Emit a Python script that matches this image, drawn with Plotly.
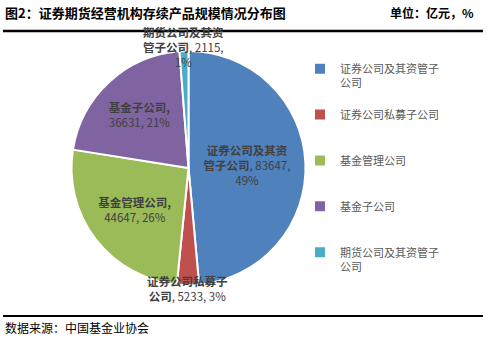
import math
import plotly.graph_objects as go

categories = ["证券公司及其资管子公司", "证券公司私募子公司", "基金管理公司", "基金子公司", "期货公司及其资管子公司"]
values = [83647, 5233, 44647, 36631, 2115]
colors = ["#4F81BD", "#C0504D", "#9BBB59", "#8064A2", "#4BACC6"]

# display helpers (line breaks in names)
legend_names = ["证券公司及其资管子<br>公司", "证券公司私募子公司", "基金管理公司", "基金子公司", "期货公司及其资管子<br>公司"]
label_names = ["证券公司及其资<br>管子公司", "证券公司私募子<br>公司", "基金管理公司,", "基金子公司,", "期货公司及其资<br>管子公司"]
sep1 = [", ", ", ", "<br>", "<br>", ", "]
sep2 = [",<br>", ", ", ", ", ", ", ",<br>"]
inside = [True, False, True, True, False]

W, H = 487, 338
CX, CY, R = 188.5, 170, 117  # pie centre (px from left / from bottom) and radius

total = sum(values)
pad = "<br>&nbsp;"
legend_labels = [n + pad * (3 - (n.count("<br>") + 1)) for n in legend_names]

text_font = dict(size=11.5, color="#404040", family="Noto Sans CJK SC")

fig = go.Figure()
fig.add_trace(go.Pie(
    labels=legend_labels,
    values=values,
    customdata=list(zip(label_names, sep1, sep2)),
    texttemplate="<b>%{customdata[0]}</b>%{customdata[1]}%{value:d}%{customdata[2]}%{percent:.0%}",
    textposition=["inside" if i else "none" for i in inside],
    insidetextorientation="horizontal",
    textfont=text_font,
    marker=dict(colors=colors, line=dict(color="white", width=2)),
    sort=False,
    direction="clockwise",
    rotation=0,
    domain=dict(x=[(CX - R) / W, (CX + R) / W], y=[(CY - R) / H, (CY + R) / H]),
    hoverinfo="skip",
))

# outside labels for the two thin slices, placed at the slice's mid-angle on the rim
annotations = []
cum = 0
for i, v in enumerate(values):
    mid = (cum + v / 2) / total
    cum += v
    if inside[i]:
        continue
    ang = 2 * math.pi * mid
    rr = R + 4
    px = CX + rr * math.sin(ang)
    py = CY + rr * math.cos(ang)
    txt = "<b>%s</b>%s%d%s%d%%" % (label_names[i], sep1[i], values[i], sep2[i], round(100 * v / total))
    annotations.append(dict(text=txt, xref="paper", yref="paper", x=px / W, y=py / H,
                            xanchor="center", yanchor="middle", showarrow=False,
                            font=text_font, align="center"))

annotations += [
    dict(text="<b>图2：证券期货经营机构存续产品规模情况分布图</b>", xref="paper", yref="paper",
         x=3 / W, y=1 - 13 / H, xanchor="left", yanchor="middle", showarrow=False,
         font=dict(size=13, color="black", family="Noto Sans CJK SC")),
    dict(text="<b>单位：亿元，%</b>", xref="paper", yref="paper",
         x=476 / W, y=1 - 13 / H, xanchor="right", yanchor="middle", showarrow=False,
         font=dict(size=12, color="black", family="Noto Sans CJK SC")),
    dict(text="数据来源：中国基金业协会", xref="paper", yref="paper",
         x=3 / W, y=1 - 327 / H, xanchor="left", yanchor="middle", showarrow=False,
         font=dict(size=12, color="black", family="Noto Sans CJK SC")),
]

fig.update_layout(
    width=W, height=H,
    margin=dict(l=0, r=0, t=0, b=0),
    paper_bgcolor="white", plot_bgcolor="white",
    font=dict(family="Noto Sans CJK SC", color="#404040"),
    showlegend=True,
    legend=dict(
        x=300 / W, y=1 - 55 / H, xanchor="left", yanchor="top",
        font=dict(size=11, color="#595959", family="Noto Sans CJK SC"),
        valign="top", itemwidth=30, bgcolor="rgba(0,0,0,0)",
        tracegroupgap=0,
    ),
    shapes=[
        dict(type="line", xref="paper", yref="paper", x0=3 / W, x1=483 / W,
             y0=1 - 31 / H, y1=1 - 31 / H, line=dict(color="black", width=2.5)),
        dict(type="line", xref="paper", yref="paper", x0=3 / W, x1=483 / W,
             y0=1 - 316 / H, y1=1 - 316 / H, line=dict(color="black", width=2)),
    ],
    annotations=annotations,
)

fig.write_html("out.html")
